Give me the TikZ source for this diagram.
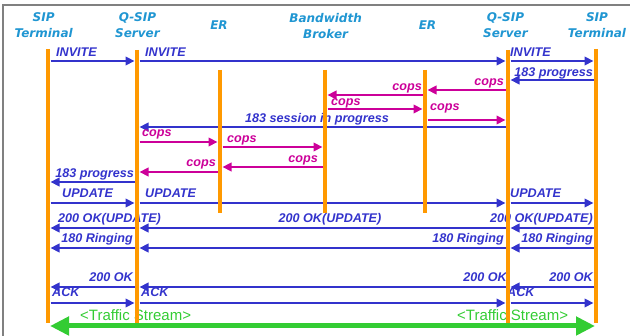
\documentclass[tikz,border=0pt]{standalone}
\usepackage{fontspec}
\setmainfont{Liberation Sans}
\newfontfamily\headfont{DejaVu Sans}
\usetikzlibrary{arrows.meta}

\definecolor{msgblue}{HTML}{3333CC}
\definecolor{copsred}{HTML}{CC0099}
\definecolor{lifeorange}{HTML}{FF9900}
\definecolor{streamgreen}{HTML}{33CC33}
\definecolor{headblue}{HTML}{2096D2}

\begin{document}
\begin{tikzpicture}[x=1pt,y=-1pt,
    header/.style={headblue,inner sep=0pt,align=center,anchor=base,
      font=\headfont\fontsize{12}{16.5}\selectfont\bfseries\itshape},
    lifeline/.style={lifeorange,line width=4.6pt},
    msg/.style={msgblue,line width=2.2pt,shorten <=2.5pt,shorten >=2.5pt,
      -{Triangle[length=9pt,width=8.5pt]}},
    cops/.style={msg,copsred},
    lbl/.style={inner sep=0pt,font=\fontsize{12.6}{14}\selectfont\bfseries\itshape}]
            \useasboundingbox (0,0) rectangle (630,336);
            \draw[black!50,line width=1.2pt] (3,336) -- (3,5) -- (630,5);
            % lifelines: name / x / top / bottom
            \foreach \name/\x/\top/\bot in {sipA/48/49/323,qsipA/137/50/323,erA/220/70/213,bb/325/70/213,erB/425/70/213,qsipB/508/50/323,sipB/596/49/323} {
                \coordinate (\name) at (\x,\top);
                \coordinate (\name-end) at (\x,\bot);
            }
            \node[header] (hdSipA) at (43.7,38) {SIP\\Terminal};
            \node[header] (hdQsipA) at (137.5,38) {Q-SIP\\Server};
            \node[header] (hdErA) at (219,30) {ER};
            \node[header] (hdBb) at (325.6,39) {Bandwidth\\Broker};
            \node[header] (hdErB) at (427.5,30) {ER};
            \node[header] (hdQsipB) at (505.5,38) {Q-SIP\\Server};
            \node[header] (hdSipB) at (597,38) {SIP\\Terminal};
            % SIP messages
            \foreach \a/\b/\y/\txt/\tx/\ty/\anc in {sipA/qsipA/61/INVITE/56/57/base west,qsipA/qsipB/61/INVITE/145/57/base west,qsipB/sipB/61/INVITE/510/57/base west,sipB/qsipB/80/183 progress/593/77/base east,qsipB/qsipA/127/183 session in progress/317/123/base,qsipA/sipA/182/183 progress/134/178/base east,sipA/qsipA/203/UPDATE/62/198/base west,qsipA/qsipB/203/UPDATE/145/198/base west,qsipB/sipB/203/UPDATE/510/198/base west,sipB/qsipB/228/200 OK(UPDATE)/593/223/base east,qsipB/qsipA/228/200 OK(UPDATE)/330/223/base,qsipA/sipA/228/200 OK(UPDATE)/58/223/base west,sipB/qsipB/248/180 Ringing/593/243/base east,qsipB/qsipA/248/180 Ringing/504/243/base east,qsipA/sipA/248/180 Ringing/133/243/base east,sipB/qsipB/287/200 OK/593/282/base east,qsipB/qsipA/287/200 OK/507/282/base east,qsipA/sipA/287/200 OK/133/282/base east,sipA/qsipA/303/ACK/52/297/base west,qsipA/qsipB/303/ACK/141/297/base west,qsipB/sipB/303/ACK/507/297/base west} {
                \draw[msg] (\a |- 0,\y) -- (\b |- 0,\y);
                \node[lbl,msgblue,anchor=\anc] at (\tx,\ty) {\txt};
            }
            % COPS messages
            \foreach \a/\b/\y/\tx/\ty/\anc in {qsipB/erB/90/504/86/base east,erB/bb/95/422/91/base east,bb/erB/109/331/106/base west,erB/qsipB/120/430/111/base west,qsipA/erA/142/142/137/base west,erA/bb/147/227/143/base west,bb/erA/167/318/163/base east,erA/qsipA/172/216/167/base east} {
                \draw[cops] (\a |- 0,\y) -- (\b |- 0,\y);
                \node[lbl,copsred,anchor=\anc] at (\tx,\ty) {cops};
            }
            % traffic stream
            \coordinate (streamL) at (50,326);
            \coordinate (streamR) at (595,326);
            \draw[streamgreen,line width=5pt,{Triangle[length=19pt,width=18pt]}-{Triangle[length=19pt,width=18pt]}] (streamL) -- (streamR);
            \foreach \x in {80,457} {
                \node[streamgreen,inner sep=0pt,anchor=base west,font=\fontsize{15}{17}\selectfont] at (\x,321) {<Traffic Stream>};
            }
            \foreach \name in {sipA,qsipA,erA,bb,erB,qsipB,sipB} {
                \draw[lifeline] (\name) -- (\name-end);
            }
        \end{tikzpicture}
\end{document}
